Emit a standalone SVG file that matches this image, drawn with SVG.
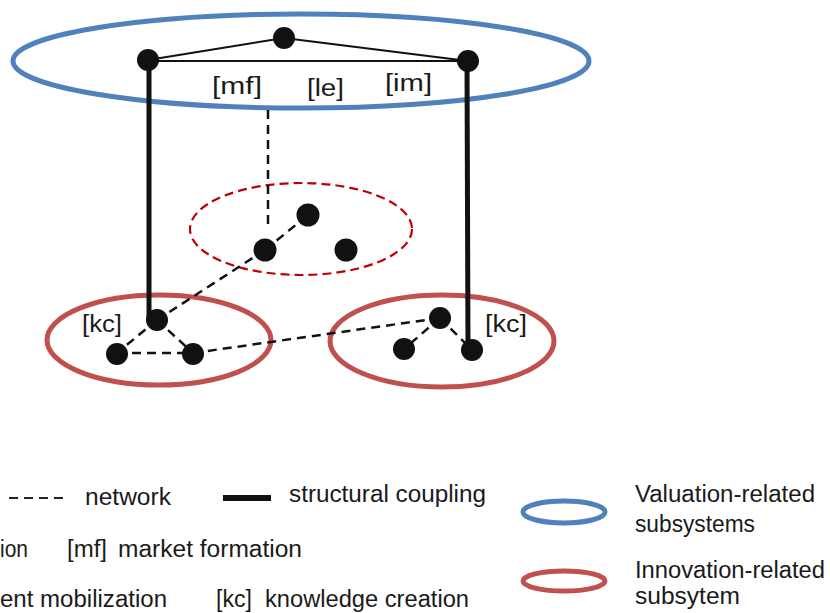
<svg xmlns="http://www.w3.org/2000/svg" width="830" height="613" viewBox="0 0 830 613">
<style>
text{font-family:"Liberation Sans",Arial,sans-serif;font-size:23px;fill:#1a1a1a}
.node{fill:#111}
.thin{stroke:#111;stroke-width:2;fill:none}
.thick{stroke:#111;stroke-width:5;fill:none}
.dash{stroke:#111;stroke-width:2.5;stroke-dasharray:9 6;fill:none}
.blue{fill:none;stroke:#4F81BD;stroke-width:5}
.red{fill:none;stroke:#C0504D;stroke-width:5}
.reddash{fill:none;stroke:#C00000;stroke-width:2.2;stroke-dasharray:9 5}
</style>
<rect width="830" height="613" fill="#fff"/>
<g id="valuation-subsystem"><ellipse class="blue" cx="301" cy="61" rx="288" ry="47"/></g>
<g id="middle-subsystem"><ellipse class="reddash" cx="301" cy="229" rx="111" ry="46"/></g>
<g id="left-subsystem"><ellipse class="red" cx="159" cy="340" rx="112" ry="45"/></g>
<g id="right-subsystem"><ellipse class="red" cx="442" cy="341" rx="112" ry="46"/></g>
<g id="connectors">
<line class="thin" x1="148" y1="61" x2="468" y2="61"/>
<line class="thin" x1="148" y1="60" x2="284" y2="38"/>
<line class="thin" x1="284" y1="38" x2="468" y2="61"/>
<line class="thick" x1="149" y1="60" x2="149" y2="318"/>
<line class="thick" x1="467" y1="61" x2="468" y2="350"/>
<line class="dash" x1="268" y1="110" x2="268" y2="228"/>
<line class="dash" x1="265" y1="250" x2="308" y2="215"/>
<line class="dash" x1="265" y1="250" x2="157" y2="320"/>
<line class="dash" x1="157" y1="320" x2="117" y2="353"/>
<line class="dash" x1="157" y1="320" x2="193" y2="353"/>
<line class="dash" x1="117" y1="353" x2="193" y2="353"/>
<line class="dash" x1="193" y1="353" x2="440" y2="318"/>
<line class="dash" x1="440" y1="318" x2="404" y2="349"/>
<line class="dash" x1="440" y1="318" x2="472" y2="350"/>
</g>
<g id="n-top-left"><circle class="node" cx="148" cy="60" r="11"/></g>
<g id="n-top-mid"><circle class="node" cx="284" cy="38" r="11"/></g>
<g id="n-top-right"><circle class="node" cx="468" cy="61" r="11"/></g>
<g id="n-mid-1"><circle class="node" cx="308" cy="215" r="11.5"/></g>
<g id="n-mid-2"><circle class="node" cx="265" cy="250" r="11.5"/></g>
<g id="n-mid-3"><circle class="node" cx="346" cy="250" r="11.5"/></g>
<g id="n-left-1"><circle class="node" cx="157" cy="320" r="11"/></g>
<g id="n-left-2"><circle class="node" cx="117" cy="354" r="11"/></g>
<g id="n-left-3"><circle class="node" cx="193" cy="354" r="11"/></g>
<g id="n-right-1"><circle class="node" cx="440" cy="318" r="11"/></g>
<g id="n-right-2"><circle class="node" cx="404" cy="349" r="11"/></g>
<g id="n-right-3"><circle class="node" cx="472" cy="350" r="11"/></g>
<g id="labels">
<text x="212" y="94" textLength="50" lengthAdjust="spacingAndGlyphs">[mf]</text>
<text x="307" y="96" textLength="37" lengthAdjust="spacingAndGlyphs">[le]</text>
<text x="385" y="91" textLength="47" lengthAdjust="spacingAndGlyphs">[im]</text>
<text x="82" y="332" textLength="40" lengthAdjust="spacingAndGlyphs">[kc]</text>
<text x="485" y="332" textLength="42" lengthAdjust="spacingAndGlyphs">[kc]</text>
</g>
<g id="legend">
<line x1="9" y1="498" x2="65" y2="498" stroke="#222" stroke-width="2.2" stroke-dasharray="9 6"/>
<text x="85" y="505" textLength="86" lengthAdjust="spacingAndGlyphs">network</text>
<line x1="223" y1="498" x2="271" y2="498" stroke="#111" stroke-width="6"/>
<text x="289" y="502" textLength="197" lengthAdjust="spacingAndGlyphs">structural coupling</text>
<text x="0" y="557" textLength="28" lengthAdjust="spacingAndGlyphs">ion</text>
<text x="67" y="557" textLength="40" lengthAdjust="spacingAndGlyphs">[mf]</text>
<text x="118" y="557" textLength="184" lengthAdjust="spacingAndGlyphs">market formation</text>
<text x="0" y="607" textLength="167" lengthAdjust="spacingAndGlyphs">ent mobilization</text>
<text x="216" y="607" textLength="36" lengthAdjust="spacingAndGlyphs">[kc]</text>
<text x="265" y="607" textLength="204" lengthAdjust="spacingAndGlyphs">knowledge creation</text>
<ellipse cx="564" cy="512" rx="41" ry="11" fill="none" stroke="#4F81BD" stroke-width="5"/>
<ellipse cx="564" cy="581" rx="41" ry="10" fill="none" stroke="#C0504D" stroke-width="5"/>
<text x="635" y="502" textLength="180" lengthAdjust="spacingAndGlyphs">Valuation-related</text>
<text x="635" y="532" textLength="120" lengthAdjust="spacingAndGlyphs">subsystems</text>
<text x="635" y="578" textLength="190" lengthAdjust="spacingAndGlyphs">Innovation-related</text>
<text x="635" y="604" textLength="105" lengthAdjust="spacingAndGlyphs">subsytem</text>
</g>
</svg>
